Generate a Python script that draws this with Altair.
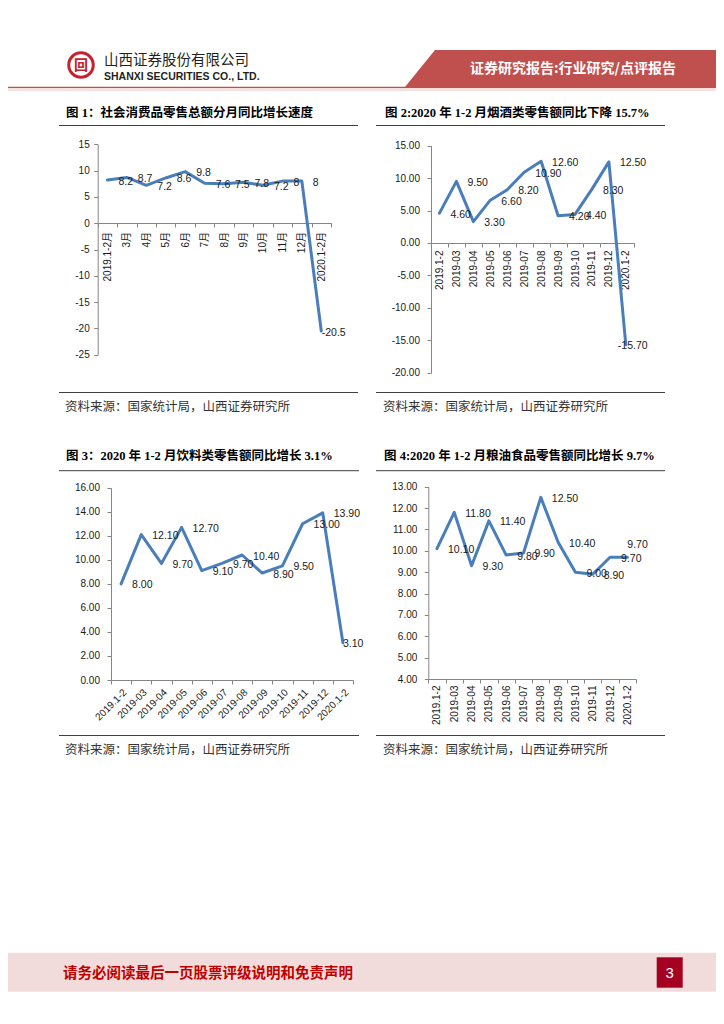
import altair as alt
import pandas as pd

OFF = 8
W, H = 708, 1000

# ---------------- data ----------------
months_cn = ["2019.1-2月", "3月", "4月", "5月", "6月", "7月", "8月", "9月", "10月", "11月", "12月", "2020.1-2月"]
months = ["2019.1-2", "2019-03", "2019-04", "2019-05", "2019-06", "2019-07", "2019-08",
          "2019-09", "2019-10", "2019-11", "2019-12", "2020.1-2"]
retail_total = [8.2, 8.7, 7.2, 8.6, 9.8, 7.6, 7.5, 7.8, 7.2, 8.0, 8.0, -20.5]
tobacco_liquor = [4.6, 9.5, 3.3, 6.6, 8.2, 10.9, 12.6, 4.2, 4.4, 8.3, 12.5, -15.7]
beverages = [8.0, 12.1, 9.7, 12.7, 9.1, 9.7, 10.4, 8.9, 9.5, 13.0, 13.9, 3.1]
grain_oil = [10.1, 11.8, 9.3, 11.4, 9.8, 9.9, 12.5, 10.4, 9.0, 8.9, 9.7, 9.7]

ticks_1 = [15, 10, 5, 0, -5, -10, -15, -20, -25]
ticks_2 = [15, 10, 5, 0, -5, -10, -15, -20]
ticks_3 = [16, 14, 12, 10, 8, 6, 4, 2, 0]
ticks_4 = [13, 12, 11, 10, 9, 8, 7, 6, 5, 4]

title_1 = "图 1：社会消费品零售总额分月同比增长速度"
title_2 = "图 2:2020 年 1-2 月烟酒类零售额同比下降 15.7%"
title_3 = "图 3：2020 年 1-2 月饮料类零售额同比增长 3.1%"
title_4 = "图 4:2020 年 1-2 月粮油食品零售额同比增长 9.7%"
source_text = "资料来源：国家统计局，山西证券研究所"
company_cn = "山西证券股份有限公司"
company_en = "SHANXI SECURITIES CO., LTD."
report_type = "证券研究报告:行业研究/点评报告"
footer_text = "请务必阅读最后一页股票评级说明和免责声明"
page_no = "3"

# ---------------- styles ----------------
BLUE = "#4A7EBB"
GRAY = "#868686"
RED_BAND = "#C0504D"
SANS = "'Liberation Sans', 'Noto Sans CJK SC'"
CJK = "'Noto Sans CJK SC'"
TITLE_FONT = "'Liberation Serif', 'Noto Sans CJK SC'"
ONE = alt.Data(values=[{}])


def px(v):
    return v - OFF


def text_at(s, x, y, size, color="#1a1a1a", font=CJK, weight="normal", align="left", baseline="middle"):
    return alt.Chart(ONE).mark_text(
        text=s, font=font, fontSize=size, fontWeight=weight, color=color, align=align, baseline=baseline
    ).encode(x=alt.value(px(x)), y=alt.value(px(y)))


def hline(x1, x2, y, color="#404040", width=1.0):
    return alt.Chart(ONE).mark_rule(color=color, strokeWidth=width).encode(
        x=alt.value(px(x1)), x2=alt.value(px(x2)), y=alt.value(px(y))
    )


def box(x1, x2, y1, y2, color):
    return alt.Chart(ONE).mark_rect(color=color).encode(
        x=alt.value(px(x1)), x2=alt.value(px(x2)), y=alt.value(px(y1)), y2=alt.value(px(y2))
    )


def panel(cats, vals, labels, x0, x1, ytop, ybot, axis_y, dom, ticks, yfmt, angle, xpad, ypad,
          last_dx, last_dy):
    df = pd.DataFrame({"cat": cats, "val": vals, "lab": labels, "idx": list(range(len(cats)))})
    x = alt.X(
        "cat:N",
        scale=alt.Scale(type="band", domain=cats, range=[px(x0), px(x1)], paddingInner=0, paddingOuter=0),
        axis=alt.Axis(
            orient="bottom", offset=px(axis_y) - H, title=None, grid=False, tickBand="extent",
            domain=True, ticks=True, labels=True,
            labelAngle=angle, labelPadding=xpad, tickSize=4, domainColor=GRAY, tickColor=GRAY,
            labelFont=SANS, labelFontSize=10, labelColor="#1a1a1a", labelOverlap=False,
        ),
    )
    y = alt.Y(
        "val:Q",
        scale=alt.Scale(domain=dom, range=[px(ybot), px(ytop)], nice=False, zero=False),
        axis=alt.Axis(
            orient="left", offset=-px(x0), title=None, grid=False, values=ticks,
            domain=True, ticks=True, labels=True,
            labelExpr="replace(format(datum.value, '" + yfmt + "'), '\u2212', '-')",
            tickSize=4, labelPadding=ypad, domainColor=GRAY, tickColor=GRAY,
            labelFont=SANS, labelFontSize=10, labelColor="#1a1a1a",
        ),
    )
    base = alt.Chart(df).encode(x=x, y=y)
    line = base.mark_line(color=BLUE, strokeWidth=3, strokeJoin="round", strokeCap="round").encode(order="idx:Q")
    labs = base.transform_filter("datum.idx < 11").mark_text(
        align="left", baseline="middle", dx=11, dy=1.5, font=SANS, fontSize=10.5, color="#1a1a1a"
    ).encode(text="lab:N")
    last = base.transform_filter("datum.idx == 11").mark_text(
        align="left", baseline="middle", dx=last_dx, dy=last_dy, font=SANS, fontSize=10.5, color="#1a1a1a"
    ).encode(text="lab:N")
    return alt.layer(line, labs, last)


p1 = panel(months_cn, retail_total, [f"{v:g}" for v in retail_total],
           97.7, 331, 144.3, 354.7, 223, [-25, 15], ticks_1, "d", -90, 4.5, 4.5, 0.5, 1.5)
p2 = panel(months, tobacco_liquor, [f"{v:.2f}" for v in tobacco_liquor],
           431, 634.3, 145.7, 372.7, 243, [-20, 15], ticks_2, ".2f", -90, 3, 7.5, -8, 1.5)
p3 = panel(months, beverages, [f"{v:.2f}" for v in beverages],
           111, 353, 487.7, 680, 680, [0, 16], ticks_3, ".2f", -45, 3, 7.5, 0, 1.5)
p4 = panel(months, grain_oil, [f"{v:.2f}" for v in grain_oil],
           428.3, 636, 486.7, 679, 679, [4, 13], ticks_4, ".2f", -90, 2, 7.5, 0, -12)

# ---------------- page decorations ----------------
band = alt.Chart(ONE).mark_point(
    shape="M0,-1L15.2,-1L15.2,1L-1.622,1Z", filled=True, fill=RED_BAND, strokeWidth=0, size=1369, opacity=1
).encode(x=alt.value(px(435)), y=alt.value(px(68.5)))

logo_ring = alt.Chart(ONE).mark_point(
    shape="circle", filled=False, stroke="#C8202F", strokeWidth=3, size=600, opacity=1
).encode(x=alt.value(px(81)), y=alt.value(px(65)))

decor = [
    band,
    hline(8, 716, 87.3, RED_BAND, 1.3),
    box(8, 716, 88, 91, "#F4E1E0"),
    logo_ring,
    text_at("回", 81, 65.5, 14, "#C8202F", CJK, "bold", "center"),
    text_at(company_cn, 104, 61, 14.5, "#231F20", CJK),
    text_at(company_en, 104, 76.5, 10.5, "#231F20", "'Liberation Sans'", "bold"),
    text_at(report_type, 470, 69, 14, "#FFFFFF", CJK, "bold"),
    # titles and rules
    text_at(title_1, 66, 113, 12.5, "#000000", TITLE_FONT, "bold"),
    text_at(title_2, 385, 113, 12.5, "#000000", TITLE_FONT, "bold"),
    text_at(title_3, 66, 456, 12.5, "#000000", TITLE_FONT, "bold"),
    text_at(title_4, 384, 456, 12.5, "#000000", TITLE_FONT, "bold"),
    hline(59, 358, 125.5),
    hline(376, 665, 125.5),
    hline(59, 358, 392.5),
    hline(376, 665, 392.5),
    hline(59, 359, 470.7),
    hline(376, 665, 470.7),
    hline(59, 359, 735.5),
    hline(376, 665, 735.5),
    text_at(source_text, 65, 407, 12.5, "#333333"),
    text_at(source_text, 383, 407, 12.5, "#333333"),
    text_at(source_text, 65, 750, 12.5, "#333333"),
    text_at(source_text, 383, 750, 12.5, "#333333"),
    # footer
    box(8, 716, 952.7, 991.7, "#F2DCDB"),
    text_at(footer_text, 63, 974, 14.5, "#C00000", CJK, "bold"),
    box(656.7, 682.7, 957.3, 987.7, "#A50021"),
    text_at(page_no, 669.7, 973, 15, "#FFFFFF", "'Liberation Sans'", "normal", "center"),
]

chart = alt.layer(*decor, p1, p2, p3, p4).properties(
    width=W, height=H, autosize=alt.AutoSizeParams(type="none"), padding=0, background="white"
).resolve_scale(x="independent", y="independent").configure_view(
    stroke="transparent", strokeWidth=0
)

chart.save("out.html", embed_options={"renderer": "svg", "actions": False})
